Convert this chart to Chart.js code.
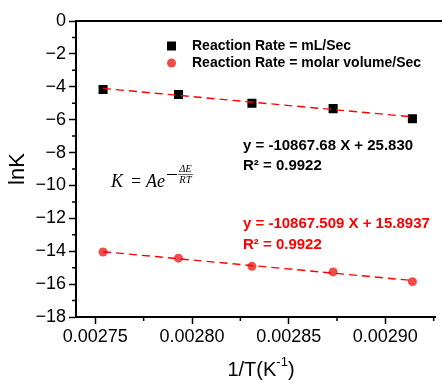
<!DOCTYPE html>
<html>
<head>
<meta charset="utf-8">
<script src="https://cdn.jsdelivr.net/npm/chart.js@4.4.1/dist/chart.umd.min.js"></script>
<style>
  body { margin: 0; background: #fff; }
  #wrap { width: 442px; height: 380px; }
</style>
</head>
<body>
<div id="wrap"><canvas id="c" width="442" height="380"></canvas></div>
<script>
// ---- data ----
const invT = [0.002754, 0.002793, 0.002831, 0.002873, 0.002914];
const lnK_mL = [-4.16, -4.47, -5.00, -5.33, -5.94];
const lnK_molar = [-14.05, -14.42, -14.92, -15.26, -15.85];
// fitted line ends (first and last 1/T)
const fit_mL = [-4.10, -5.83];
const fit_molar = [-14.03, -15.78];
const xTicks = [0.00275, 0.00280, 0.00285, 0.00290];
const xMinor = [0.002775, 0.002825, 0.002875, 0.002925];
const yMinor = [-1, -3, -5, -7, -9, -11, -13, -15, -17];
const seriesNames = ['Reaction Rate = mL/Sec', 'Reaction Rate = molar volume/Sec'];

const SANS = '"Liberation Sans", Arial, sans-serif';
const RED = '#ff0000';
const DOT = 'rgba(240,60,60,0.92)';

const pts = (xs, ys) => xs.map((x, i) => ({ x, y: ys[i] }));
const ends = (ys) => [{ x: invT[0], y: ys[0] }, { x: invT[invT.length - 1], y: ys[1] }];

// minor ticks, top frame line, legend, equations
const extras = {
  id: 'extras',
  afterDraw(chart) {
    const { ctx, chartArea: a, scales: { x, y } } = chart;
    ctx.save();
    ctx.strokeStyle = '#000';
    ctx.lineWidth = 1.5;
    ctx.beginPath();
    yMinor.forEach(v => { const py = y.getPixelForValue(v); ctx.moveTo(a.left - 4, py); ctx.lineTo(a.left, py); });
    xMinor.forEach(v => { const px = x.getPixelForValue(v); ctx.moveTo(px, a.bottom); ctx.lineTo(px, a.bottom + 4); });
    ctx.stroke();
    // top frame line
    ctx.lineWidth = 2;
    ctx.beginPath(); ctx.moveTo(a.left, a.top); ctx.lineTo(442, a.top); ctx.stroke();

    // legend
    ctx.fillStyle = '#000';
    ctx.fillRect(167, 41.5, 9, 9);
    ctx.fillStyle = DOT;
    ctx.beginPath(); ctx.arc(171.5, 63, 4.5, 0, Math.PI * 2); ctx.fill();
    ctx.fillStyle = '#000';
    ctx.font = 'bold 14px ' + SANS;
    ctx.textBaseline = 'middle';
    ctx.textAlign = 'left';
    ctx.fillText(seriesNames[0], 192, 46);
    ctx.fillText(seriesNames[1], 192, 63.5);

    // equations
    ctx.font = 'bold 15px ' + SANS;
    ctx.fillText('y = -10867.68 X + 25.830', 243, 146);
    ctx.fillText('R\u00b2 = 0.9922', 243, 166);
    ctx.fillStyle = RED;
    ctx.fillText('y = -10867.509 X + 15.8937', 243, 224);
    ctx.fillText('R\u00b2 = 0.9922', 243, 245);

    // K = A e^(-ΔE/RT)
    ctx.fillStyle = '#000';
    ctx.textBaseline = 'alphabetic';
    ctx.font = 'italic 18px "Liberation Serif", serif';
    ctx.fillText('K', 111, 187);
    ctx.font = '18px "Liberation Serif", serif';
    ctx.textAlign = 'center';
    ctx.fillText('=', 136, 187);
    ctx.textAlign = 'left';
    ctx.font = 'italic 18px "Liberation Serif", serif';
    ctx.fillText('Ae', 146, 187);
    ctx.lineWidth = 1;
    ctx.beginPath(); ctx.moveTo(167, 174.5); ctx.lineTo(177, 174.5); ctx.stroke();
    ctx.lineWidth = 0.6;
    ctx.beginPath(); ctx.moveTo(178, 174.5); ctx.lineTo(193, 174.5); ctx.stroke();
    ctx.font = 'italic 10.5px "Liberation Serif", serif';
    ctx.textAlign = 'center';
    ctx.fillText('\u0394E', 185.5, 172);
    ctx.fillText('RT', 185.5, 183);

    // x axis title with superscript
    ctx.textAlign = 'left';
    const t1 = '1/T(K', t2 = '-1', t3 = ')';
    ctx.font = '20px ' + SANS; const w1 = ctx.measureText(t1).width, w3 = ctx.measureText(t3).width;
    ctx.font = '13px ' + SANS; const w2 = ctx.measureText(t2).width;
    let sx = 261 - (w1 + w2 + w3) / 2;
    ctx.font = '20px ' + SANS; ctx.fillText(t1, sx, 376);
    ctx.font = '13px ' + SANS; ctx.fillText(t2, sx + w1, 366);
    ctx.font = '20px ' + SANS; ctx.fillText(t3, sx + w1 + w2, 376);
    ctx.restore();
  }
};

new Chart(document.getElementById('c'), {
  type: 'scatter',
  data: {
    datasets: [
      { label: 'fit mL', type: 'line', data: ends(fit_mL), borderColor: RED, borderWidth: 1.4,
        borderDash: [8, 5], pointRadius: 0, fill: false, order: 0 },
      { label: 'fit molar', type: 'line', data: ends(fit_molar), borderColor: RED, borderWidth: 1.4,
        borderDash: [8, 5], pointRadius: 0, fill: false, order: 0 },
      { label: seriesNames[0], data: pts(invT, lnK_mL), pointStyle: 'rect', pointRadius: 6.4,
        backgroundColor: '#000', borderColor: '#000', borderWidth: 0, order: 1 },
      { label: seriesNames[1], data: pts(invT, lnK_molar), pointStyle: 'circle', pointRadius: 4.5,
        backgroundColor: DOT, borderColor: DOT, borderWidth: 0, order: 1 }
    ]
  },
  options: {
    responsive: false,
    animation: false,
    devicePixelRatio: 1,
    layout: { padding: { top: 21, right: 6, left: 0, bottom: 0 } },
    plugins: { legend: { display: false }, tooltip: { enabled: false } },
    scales: {
      x: {
        type: 'linear', min: 0.00274, max: 0.002926,
        afterBuildTicks: s => { s.ticks = xTicks.map(v => ({ value: v })); },
        afterFit: s => { s.height = 63; },
        ticks: { color: '#000', font: { family: SANS, size: 18 }, padding: 2, maxRotation: 0,
          callback: v => v.toFixed(5) },
        grid: { drawOnChartArea: false, color: '#000', tickLength: 7, tickWidth: 1.5 },
        border: { color: '#000', width: 2 }
      },
      y: {
        min: -18, max: 0,
        afterFit: s => { s.width = 76; },
        ticks: { stepSize: 2, color: '#000', font: { family: SANS, size: 18 }, padding: 3,
          callback: v => String(v).replace('-', '\u2212') },
        grid: { drawOnChartArea: false, color: '#000', tickLength: 7, tickWidth: 1.5 },
        border: { color: '#000', width: 2 },
        title: { display: true, text: 'lnK', color: '#000', font: { family: SANS, size: 22 },
          padding: { top: 5, bottom: 0 } }
      }
    }
  },
  plugins: [extras]
});
</script>
</body>
</html>
